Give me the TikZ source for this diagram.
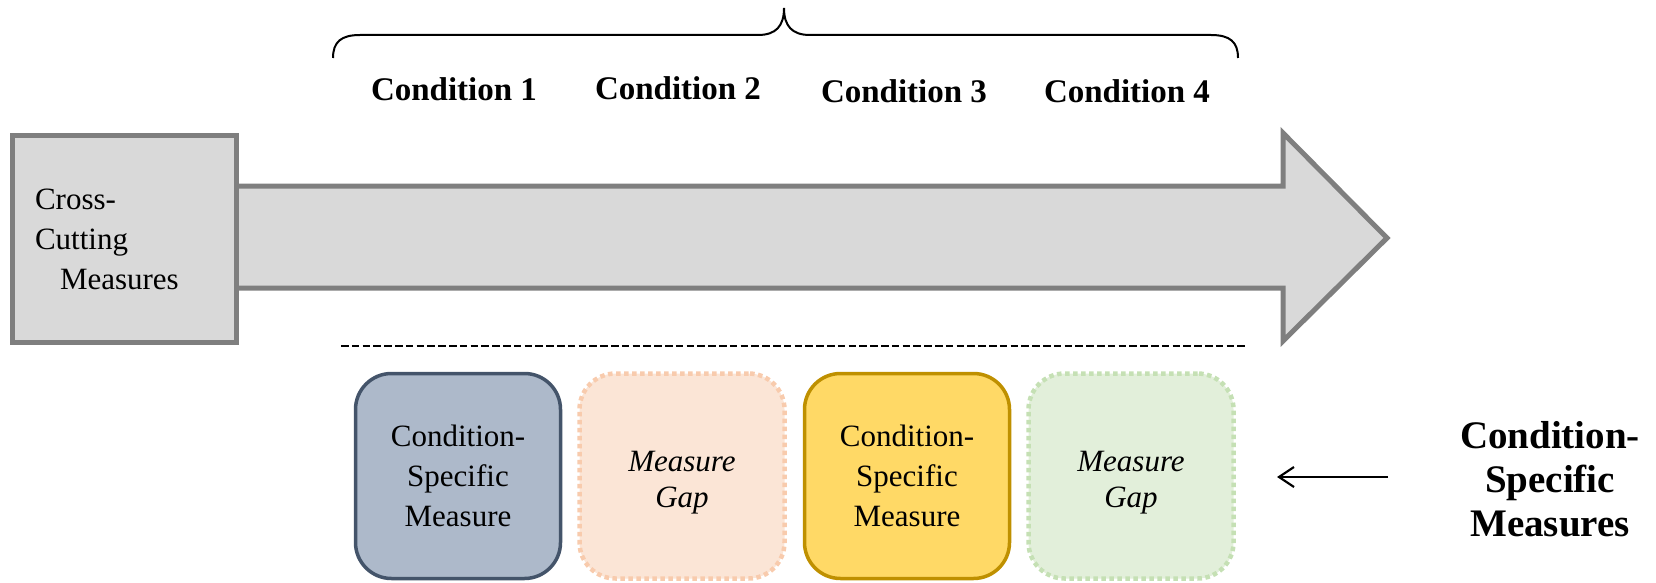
\documentclass[tikz,border=0pt]{standalone}
\usepackage{fontspec}
\setmainfont{Liberation Serif}
\usetikzlibrary{arrows.meta}
\definecolor{arrowfill}{HTML}{D9D9D9}
\definecolor{arrowline}{HTML}{7F7F7F}
\definecolor{bluefill}{HTML}{ADB9CA}
\definecolor{blueline}{HTML}{44546A}
\definecolor{peachfill}{HTML}{FBE5D6}
\definecolor{peachline}{HTML}{F8CBAD}
\definecolor{goldfill}{HTML}{FFD966}
\definecolor{goldline}{HTML}{BF9000}
\definecolor{greenfill}{HTML}{E2EFDA}
\definecolor{greenline}{HTML}{C5E0B4}
% two-line gap caption, set a little below the box centre
\newcommand{\gapcaption}{\raisebox{-6pt}[\height][\depth]{\begin{tabular}{@{}c@{}}Measure\\Gap\end{tabular}}}
\tikzset{
  bodytext/.style={font=\fontsize{31}{40}\selectfont},
  condlabel/.style={font=\bfseries\fontsize{33}{40}\selectfont},
  measurebox/.style={rectangle, rounded corners=36pt, minimum width=205pt,
    minimum height=205pt, align=center, inner sep=0pt, line width=3.5pt,
    bodytext},
  gapbox/.style={measurebox, line width=4.5pt, dash pattern=on 4.5pt off 3.5pt,
    font=\itshape\fontsize{31}{36}\selectfont},
}
\begin{document}
\begin{tikzpicture}[x=1pt,y=-1pt]
\useasboundingbox (0,0) rectangle (1656,583);

% big process arrow
\draw[line width=5pt, draw=arrowline, fill=arrowfill, line join=miter]
  (230,186) -- (1283,186) -- (1283,133) -- (1387,238) -- (1283,341)
  -- (1283,288) -- (230,288) -- cycle;

% cross-cutting box
\node[rectangle, draw=arrowline, fill=arrowfill, line width=5pt,
      minimum width=224pt, minimum height=207pt, text width=178pt,
      inner xsep=23pt, align=left, bodytext] (cc) at (124,239)
  {Cross-\\Cutting\\\hspace*{25pt}Measures};

% brace over the conditions
\draw[line width=2pt] (333,58) .. controls (333,42) and (341,35) .. (360,35)
  -- (758,35) .. controls (776,35) and (784,26) .. (784,8)
  .. controls (784,26) and (792,35) .. (810,35)
  -- (1211,35) .. controls (1230,35) and (1238,42) .. (1238,58);

% condition labels
\node[condlabel] (c1) at (454,89) {Condition 1};
\node[condlabel] (c2) at (678,88) {Condition 2};
\node[condlabel] (c3) at (904,91) {Condition 3};
\node[condlabel] (c4) at (1127,91) {Condition 4};

% separator
\draw[line width=2.6pt, dash pattern=on 7.5pt off 3.3pt] (341,346) -- (1246,346);

% measure boxes
\node[measurebox, draw=blueline, fill=bluefill] (m1) at (458,476)
  {Condition-\\Specific\\Measure};
\node[gapbox, draw=peachline, fill=peachfill] (m2) at (682,476) {\gapcaption};
\node[measurebox, draw=goldline, fill=goldfill] (m3) at (907,476)
  {Condition-\\Specific\\Measure};
\node[gapbox, draw=greenline, fill=greenfill] (m4) at (1131,476) {\gapcaption};

% side label and pointer
\node[align=center, font=\bfseries\fontsize{39}{44}\selectfont] (csm) at (1550,479)
  {Condition-\\Specific\\Measures};
\coordinate (ptrstart) at (1388,477);
\coordinate (ptrend) at (1277,477);
\draw[line width=2.2pt, -{Straight Barb[length=15pt,width=20pt,line width=2.2pt]}]
  (ptrstart) -- (ptrend);
\end{tikzpicture}
\end{document}
